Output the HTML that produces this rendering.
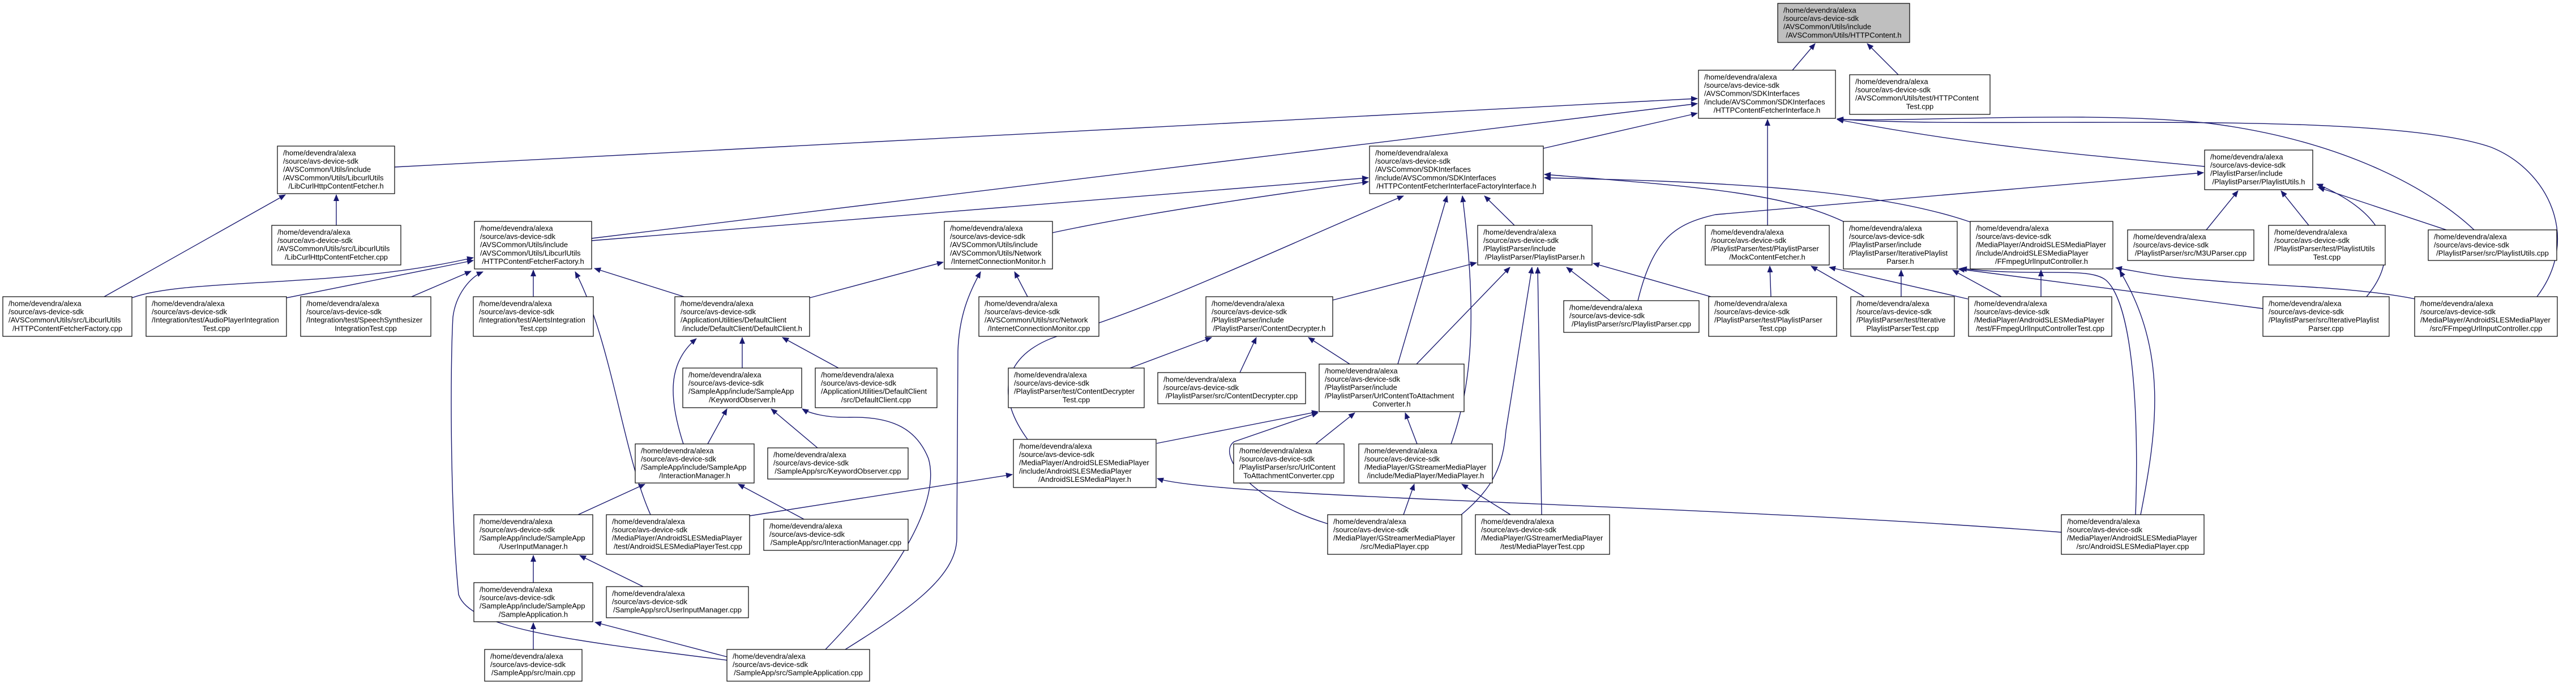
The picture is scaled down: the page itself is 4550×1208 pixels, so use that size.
<!DOCTYPE html>
<html><head><meta charset="utf-8"><style>
html,body{margin:0;padding:0;background:#fff}
svg{display:block}
text{font-family:"Liberation Sans",sans-serif;font-size:13px;fill:#000}
rect{fill:#fff;stroke:#000;stroke-width:1.2}
.e{fill:none;stroke:#191970;stroke-width:1.4;marker-end:url(#ah)}
.m{text-anchor:middle}
</style></head><body>
<svg width="4550" height="1208" viewBox="0 0 4550 1208" xmlns="http://www.w3.org/2000/svg">
<defs><marker id="ah" markerWidth="12" markerHeight="10" refX="11" refY="5" orient="auto" markerUnits="userSpaceOnUse"><path d="M0,0 L12,5 L0,10 z" fill="#191970"/></marker></defs>

<!-- edges -->
<path class="e" d="M3166,124 L3206,77"/>
<path class="e" d="M3353,132 L3298,77"/>
<path class="e" d="M697,295 L2998,174"/>
<path class="e" d="M1045,421 L2998,183"/>
<path class="e" d="M1045,425 L2417,314"/>
<path class="e" d="M2726,262 L2998,200"/>
<path class="e" d="M1859,411 Q2050,370 2417,321"/>
<path class="e" d="M1815,776 C1745,680 1790,615 1880,590 C2050,540 2300,420 2479,346"/>
<path class="e" d="M2469,643 L2556,346"/>
<path class="e" d="M2563,784 C2600,680 2610,560 2583,346"/>
<path class="e" d="M2675,398 L2622,346"/>
<path class="e" d="M3260,393 C3150,340 3000,330 2728,308"/>
<path class="e" d="M3480,392 C3300,330 3000,320 2728,314"/>
<path class="e" d="M3894,294 C3700,275 3500,260 3245,211"/>
<path class="e" d="M3122,398 L3122,211"/>
<path class="e" d="M4370,406 C4300,340 4150,250 3904,218 C3700,195 3400,215 3245,211"/>
<path class="e" d="M4481,524 C4560,420 4500,300 4400,260 C4200,190 3500,230 3245,210"/>
<path class="e" d="M2893,531 C2920,420 2960,395 3030,379 L3892,305"/>
<path class="e" d="M3897,406 L3953,337"/>
<path class="e" d="M4078,398 L4029,337"/>
<path class="e" d="M4321,406 L4095,331"/>
<path class="e" d="M4180,524 C4250,440 4200,370 4092,325"/>
<path class="e" d="M594,398 L594,344"/>
<path class="e" d="M184,524 L504,344"/>
<path class="e" d="M233,526 C330,490 600,510 836,455"/>
<path class="e" d="M506,526 L836,460"/>
<path class="e" d="M727,524 L832,479"/>
<path class="e" d="M942,524 L942,477"/>
<path class="e" d="M1208,524 L1050,474"/>
<path class="e" d="M1149,909 C1100,800 1080,600 1016,480"/>
<path class="e" d="M1284,1166 C1000,1130 830,1110 810,1050 C795,900 795,650 800,560 C805,520 830,490 853,480"/>
<path class="e" d="M1430,526 L1666,463"/>
<path class="e" d="M1815,524 L1792,480"/>
<path class="e" d="M1493,1147 C1600,1080 1690,1020 1690,950 L1692,620 C1694,560 1710,520 1732,480"/>
<path class="e" d="M1458,1147 C1600,1000 1660,880 1640,810 C1620,760 1580,735 1500,737 C1460,738 1430,730 1417,722"/>
<path class="e" d="M2354,530 L2608,464"/>
<path class="e" d="M2502,643 L2667,472"/>
<path class="e" d="M2581,909 C2640,860 2655,820 2660,760 L2706,472"/>
<path class="e" d="M2723,909 L2716,472"/>
<path class="e" d="M2844,531 L2767,472"/>
<path class="e" d="M3022,524 L2814,465"/>
<path class="e" d="M3128,524 L3126,470"/>
<path class="e" d="M3293,524 L3199,470"/>
<path class="e" d="M3476,528 L3231,472"/>
<path class="e" d="M3358,524 L3358,477"/>
<path class="e" d="M3535,524 L3449,477"/>
<path class="e" d="M3605,524 L3605,477"/>
<path class="e" d="M3997,545 L3459,475"/>
<path class="e" d="M3772,909 C3778,750 3770,540 3720,495 C3690,470 3600,490 3463,474"/>
<path class="e" d="M3781,909 C3810,760 3830,620 3744,478"/>
<path class="e" d="M4266,528 C4150,505 4000,505 3900,495 C3820,490 3780,480 3737,473"/>
<path class="e" d="M2043,783 L2328,727"/>
<path class="e" d="M1324,911 L1788,838"/>
<path class="e" d="M3641,940 C3000,890 2150,880 2044,845"/>
<path class="e" d="M2384,643 L2311,596"/>
<path class="e" d="M1996,650 L2140,596"/>
<path class="e" d="M2190,658 L2219,596"/>
<path class="e" d="M2324,784 L2393,729"/>
<path class="e" d="M2503,784 L2482,729"/>
<path class="e" d="M2345,925 C2200,880 2150,800 2180,780 L2328,729"/>
<path class="e" d="M2479,909 L2498,855"/>
<path class="e" d="M2668,909 L2582,855"/>
<path class="e" d="M1311,650 L1311,596"/>
<path class="e" d="M1481,650 L1382,596"/>
<path class="e" d="M1207,784 C1180,700 1180,640 1230,598"/>
<path class="e" d="M1250,784 L1284,722"/>
<path class="e" d="M1444,791 L1362,722"/>
<path class="e" d="M1021,909 L1139,855"/>
<path class="e" d="M1420,917 L1304,855"/>
<path class="e" d="M942,1029 L942,981"/>
<path class="e" d="M1136,1036 L1024,981"/>
<path class="e" d="M942,1147 L942,1100"/>
<path class="e" d="M1284,1160 L1051,1099"/>

<!-- nodes -->
<g transform="translate(3140,6)"><rect width="233" height="69" style="fill:#bfbfbf"/><text><tspan x="10" y="16.5">/home/devendra/alexa</tspan><tspan x="10" y="31">/source/avs-device-sdk</tspan><tspan x="10" y="45.7">/AVSCommon/Utils/include</tspan><tspan x="116.5" y="60.3" class="m">/AVSCommon/Utils/HTTPContent.h</tspan></text></g>
<g transform="translate(3000,124)"><rect width="242" height="85"/><text><tspan x="10" y="16.5">/home/devendra/alexa</tspan><tspan x="10" y="31">/source/avs-device-sdk</tspan><tspan x="10" y="45.7">/AVSCommon/SDKInterfaces</tspan><tspan x="10" y="60.3">/include/AVSCommon/SDKInterfaces</tspan><tspan x="121" y="75" class="m">/HTTPContentFetcherInterface.h</tspan></text></g>
<g transform="translate(3267,132)"><rect width="248" height="70"/><text><tspan x="10" y="16.5">/home/devendra/alexa</tspan><tspan x="10" y="31">/source/avs-device-sdk</tspan><tspan x="10" y="45.7">/AVSCommon/Utils/test/HTTPContent</tspan><tspan x="124" y="60.3" class="m">Test.cpp</tspan></text></g>
<g transform="translate(490,258)"><rect width="207" height="84"/><text><tspan x="10" y="16.5">/home/devendra/alexa</tspan><tspan x="10" y="31">/source/avs-device-sdk</tspan><tspan x="10" y="45.7">/AVSCommon/Utils/include</tspan><tspan x="10" y="60.3">/AVSCommon/Utils/LibcurlUtils</tspan><tspan x="103.5" y="75" class="m">/LibCurlHttpContentFetcher.h</tspan></text></g>
<g transform="translate(2419,258)"><rect width="307" height="84"/><text><tspan x="10" y="16.5">/home/devendra/alexa</tspan><tspan x="10" y="31">/source/avs-device-sdk</tspan><tspan x="10" y="45.7">/AVSCommon/SDKInterfaces</tspan><tspan x="10" y="60.3">/include/AVSCommon/SDKInterfaces</tspan><tspan x="153.5" y="75" class="m">/HTTPContentFetcherInterfaceFactoryInterface.h</tspan></text></g>
<g transform="translate(3894,265)"><rect width="191" height="70"/><text><tspan x="10" y="16.5">/home/devendra/alexa</tspan><tspan x="10" y="31">/source/avs-device-sdk</tspan><tspan x="10" y="45.7">/PlaylistParser/include</tspan><tspan x="95.5" y="60.3" class="m">/PlaylistParser/PlaylistUtils.h</tspan></text></g>
<g transform="translate(480,398)"><rect width="228" height="70"/><text><tspan x="10" y="16.5">/home/devendra/alexa</tspan><tspan x="10" y="31">/source/avs-device-sdk</tspan><tspan x="10" y="45.7">/AVSCommon/Utils/src/LibcurlUtils</tspan><tspan x="114" y="60.3" class="m">/LibCurlHttpContentFetcher.cpp</tspan></text></g>
<g transform="translate(838,391)"><rect width="207" height="84"/><text><tspan x="10" y="16.5">/home/devendra/alexa</tspan><tspan x="10" y="31">/source/avs-device-sdk</tspan><tspan x="10" y="45.7">/AVSCommon/Utils/include</tspan><tspan x="10" y="60.3">/AVSCommon/Utils/LibcurlUtils</tspan><tspan x="103.5" y="75" class="m">/HTTPContentFetcherFactory.h</tspan></text></g>
<g transform="translate(1668,391)"><rect width="191" height="84"/><text><tspan x="10" y="16.5">/home/devendra/alexa</tspan><tspan x="10" y="31">/source/avs-device-sdk</tspan><tspan x="10" y="45.7">/AVSCommon/Utils/include</tspan><tspan x="10" y="60.3">/AVSCommon/Utils/Network</tspan><tspan x="95.5" y="75" class="m">/InternetConnectionMonitor.h</tspan></text></g>
<g transform="translate(2610,398)"><rect width="202" height="70"/><text><tspan x="10" y="16.5">/home/devendra/alexa</tspan><tspan x="10" y="31">/source/avs-device-sdk</tspan><tspan x="10" y="45.7">/PlaylistParser/include</tspan><tspan x="101" y="60.3" class="m">/PlaylistParser/PlaylistParser.h</tspan></text></g>
<g transform="translate(3012,398)"><rect width="219" height="70"/><text><tspan x="10" y="16.5">/home/devendra/alexa</tspan><tspan x="10" y="31">/source/avs-device-sdk</tspan><tspan x="10" y="45.7">/PlaylistParser/test/PlaylistParser</tspan><tspan x="109.5" y="60.3" class="m">/MockContentFetcher.h</tspan></text></g>
<g transform="translate(3256,391)"><rect width="201" height="84"/><text><tspan x="10" y="16.5">/home/devendra/alexa</tspan><tspan x="10" y="31">/source/avs-device-sdk</tspan><tspan x="10" y="45.7">/PlaylistParser/include</tspan><tspan x="10" y="60.3">/PlaylistParser/IterativePlaylist</tspan><tspan x="100.5" y="75" class="m">Parser.h</tspan></text></g>
<g transform="translate(3480,391)"><rect width="252" height="84"/><text><tspan x="10" y="16.5">/home/devendra/alexa</tspan><tspan x="10" y="31">/source/avs-device-sdk</tspan><tspan x="10" y="45.7">/MediaPlayer/AndroidSLESMediaPlayer</tspan><tspan x="10" y="60.3">/include/AndroidSLESMediaPlayer</tspan><tspan x="126" y="75" class="m">/FFmpegUrlInputController.h</tspan></text></g>
<g transform="translate(3758,406)"><rect width="223" height="54"/><text><tspan x="10" y="16.5">/home/devendra/alexa</tspan><tspan x="10" y="31">/source/avs-device-sdk</tspan><tspan x="111.5" y="45.7" class="m">/PlaylistParser/src/M3UParser.cpp</tspan></text></g>
<g transform="translate(4007,398)"><rect width="206" height="70"/><text><tspan x="10" y="16.5">/home/devendra/alexa</tspan><tspan x="10" y="31">/source/avs-device-sdk</tspan><tspan x="10" y="45.7">/PlaylistParser/test/PlaylistUtils</tspan><tspan x="103" y="60.3" class="m">Test.cpp</tspan></text></g>
<g transform="translate(4289,406)"><rect width="227" height="54"/><text><tspan x="10" y="16.5">/home/devendra/alexa</tspan><tspan x="10" y="31">/source/avs-device-sdk</tspan><tspan x="113.5" y="45.7" class="m">/PlaylistParser/src/PlaylistUtils.cpp</tspan></text></g>

<g transform="translate(5,524)"><rect width="228" height="70"/><text><tspan x="10" y="16.5">/home/devendra/alexa</tspan><tspan x="10" y="31">/source/avs-device-sdk</tspan><tspan x="10" y="45.7">/AVSCommon/Utils/src/LibcurlUtils</tspan><tspan x="114" y="60.3" class="m">/HTTPContentFetcherFactory.cpp</tspan></text></g>
<g transform="translate(258,524)"><rect width="248" height="70"/><text><tspan x="10" y="16.5">/home/devendra/alexa</tspan><tspan x="10" y="31">/source/avs-device-sdk</tspan><tspan x="10" y="45.7">/Integration/test/AudioPlayerIntegration</tspan><tspan x="124" y="60.3" class="m">Test.cpp</tspan></text></g>
<g transform="translate(531,524)"><rect width="230" height="70"/><text><tspan x="10" y="16.5">/home/devendra/alexa</tspan><tspan x="10" y="31">/source/avs-device-sdk</tspan><tspan x="10" y="45.7">/Integration/test/SpeechSynthesizer</tspan><tspan x="115" y="60.3" class="m">IntegrationTest.cpp</tspan></text></g>
<g transform="translate(836,524)"><rect width="212" height="70"/><text><tspan x="10" y="16.5">/home/devendra/alexa</tspan><tspan x="10" y="31">/source/avs-device-sdk</tspan><tspan x="10" y="45.7">/Integration/test/AlertsIntegration</tspan><tspan x="106" y="60.3" class="m">Test.cpp</tspan></text></g>
<g transform="translate(1192,524)"><rect width="238" height="70"/><text><tspan x="10" y="16.5">/home/devendra/alexa</tspan><tspan x="10" y="31">/source/avs-device-sdk</tspan><tspan x="10" y="45.7">/ApplicationUtilities/DefaultClient</tspan><tspan x="119" y="60.3" class="m">/include/DefaultClient/DefaultClient.h</tspan></text></g>
<g transform="translate(1729,524)"><rect width="212" height="70"/><text><tspan x="10" y="16.5">/home/devendra/alexa</tspan><tspan x="10" y="31">/source/avs-device-sdk</tspan><tspan x="10" y="45.7">/AVSCommon/Utils/src/Network</tspan><tspan x="106" y="60.3" class="m">/InternetConnectionMonitor.cpp</tspan></text></g>
<g transform="translate(2130,524)"><rect width="224" height="70"/><text><tspan x="10" y="16.5">/home/devendra/alexa</tspan><tspan x="10" y="31">/source/avs-device-sdk</tspan><tspan x="10" y="45.7">/PlaylistParser/include</tspan><tspan x="112" y="60.3" class="m">/PlaylistParser/ContentDecrypter.h</tspan></text></g>
<g transform="translate(2762,531)"><rect width="239" height="56"/><text><tspan x="10" y="16.5">/home/devendra/alexa</tspan><tspan x="10" y="31">/source/avs-device-sdk</tspan><tspan x="119.5" y="45.7" class="m">/PlaylistParser/src/PlaylistParser.cpp</tspan></text></g>
<g transform="translate(3018,524)"><rect width="226" height="70"/><text><tspan x="10" y="16.5">/home/devendra/alexa</tspan><tspan x="10" y="31">/source/avs-device-sdk</tspan><tspan x="10" y="45.7">/PlaylistParser/test/PlaylistParser</tspan><tspan x="113" y="60.3" class="m">Test.cpp</tspan></text></g>
<g transform="translate(3269,524)"><rect width="183" height="70"/><text><tspan x="10" y="16.5">/home/devendra/alexa</tspan><tspan x="10" y="31">/source/avs-device-sdk</tspan><tspan x="10" y="45.7">/PlaylistParser/test/Iterative</tspan><tspan x="91.5" y="60.3" class="m">PlaylistParserTest.cpp</tspan></text></g>
<g transform="translate(3477,524)"><rect width="253" height="70"/><text><tspan x="10" y="16.5">/home/devendra/alexa</tspan><tspan x="10" y="31">/source/avs-device-sdk</tspan><tspan x="10" y="45.7">/MediaPlayer/AndroidSLESMediaPlayer</tspan><tspan x="126.5" y="60.3" class="m">/test/FFmpegUrlInputControllerTest.cpp</tspan></text></g>
<g transform="translate(3997,524)"><rect width="223" height="70"/><text><tspan x="10" y="16.5">/home/devendra/alexa</tspan><tspan x="10" y="31">/source/avs-device-sdk</tspan><tspan x="10" y="45.7">/PlaylistParser/src/IterativePlaylist</tspan><tspan x="111.5" y="60.3" class="m">Parser.cpp</tspan></text></g>
<g transform="translate(4265,524)"><rect width="252" height="70"/><text><tspan x="10" y="16.5">/home/devendra/alexa</tspan><tspan x="10" y="31">/source/avs-device-sdk</tspan><tspan x="10" y="45.7">/MediaPlayer/AndroidSLESMediaPlayer</tspan><tspan x="126" y="60.3" class="m">/src/FFmpegUrlInputController.cpp</tspan></text></g>

<g transform="translate(1206,650)"><rect width="210" height="70"/><text><tspan x="10" y="16.5">/home/devendra/alexa</tspan><tspan x="10" y="31">/source/avs-device-sdk</tspan><tspan x="10" y="45.7">/SampleApp/include/SampleApp</tspan><tspan x="105" y="60.3" class="m">/KeywordObserver.h</tspan></text></g>
<g transform="translate(1440,650)"><rect width="215" height="70"/><text><tspan x="10" y="16.5">/home/devendra/alexa</tspan><tspan x="10" y="31">/source/avs-device-sdk</tspan><tspan x="10" y="45.7">/ApplicationUtilities/DefaultClient</tspan><tspan x="107.5" y="60.3" class="m">/src/DefaultClient.cpp</tspan></text></g>
<g transform="translate(1781,650)"><rect width="240" height="70"/><text><tspan x="10" y="16.5">/home/devendra/alexa</tspan><tspan x="10" y="31">/source/avs-device-sdk</tspan><tspan x="10" y="45.7">/PlaylistParser/test/ContentDecrypter</tspan><tspan x="120" y="60.3" class="m">Test.cpp</tspan></text></g>
<g transform="translate(2045,658)"><rect width="261" height="55"/><text><tspan x="10" y="16.5">/home/devendra/alexa</tspan><tspan x="10" y="31">/source/avs-device-sdk</tspan><tspan x="130.5" y="45.7" class="m">/PlaylistParser/src/ContentDecrypter.cpp</tspan></text></g>
<g transform="translate(2330,643)"><rect width="256" height="84"/><text><tspan x="10" y="16.5">/home/devendra/alexa</tspan><tspan x="10" y="31">/source/avs-device-sdk</tspan><tspan x="10" y="45.7">/PlaylistParser/include</tspan><tspan x="10" y="60.3">/PlaylistParser/UrlContentToAttachment</tspan><tspan x="128" y="75" class="m">Converter.h</tspan></text></g>

<g transform="translate(1122,784)"><rect width="210" height="69"/><text><tspan x="10" y="16.5">/home/devendra/alexa</tspan><tspan x="10" y="31">/source/avs-device-sdk</tspan><tspan x="10" y="45.7">/SampleApp/include/SampleApp</tspan><tspan x="105" y="60.3" class="m">/InteractionManager.h</tspan></text></g>
<g transform="translate(1356,791)"><rect width="248" height="55"/><text><tspan x="10" y="16.5">/home/devendra/alexa</tspan><tspan x="10" y="31">/source/avs-device-sdk</tspan><tspan x="124" y="45.7" class="m">/SampleApp/src/KeywordObserver.cpp</tspan></text></g>
<g transform="translate(1790,776)"><rect width="252" height="85"/><text><tspan x="10" y="16.5">/home/devendra/alexa</tspan><tspan x="10" y="31">/source/avs-device-sdk</tspan><tspan x="10" y="45.7">/MediaPlayer/AndroidSLESMediaPlayer</tspan><tspan x="10" y="60.3">/include/AndroidSLESMediaPlayer</tspan><tspan x="126" y="75" class="m">/AndroidSLESMediaPlayer.h</tspan></text></g>
<g transform="translate(2179,784)"><rect width="195" height="69"/><text><tspan x="10" y="16.5">/home/devendra/alexa</tspan><tspan x="10" y="31">/source/avs-device-sdk</tspan><tspan x="10" y="45.7">/PlaylistParser/src/UrlContent</tspan><tspan x="97.5" y="60.3" class="m">ToAttachmentConverter.cpp</tspan></text></g>
<g transform="translate(2400,784)"><rect width="236" height="69"/><text><tspan x="10" y="16.5">/home/devendra/alexa</tspan><tspan x="10" y="31">/source/avs-device-sdk</tspan><tspan x="10" y="45.7">/MediaPlayer/GStreamerMediaPlayer</tspan><tspan x="118" y="60.3" class="m">/include/MediaPlayer/MediaPlayer.h</tspan></text></g>

<g transform="translate(837,909)"><rect width="210" height="70"/><text><tspan x="10" y="16.5">/home/devendra/alexa</tspan><tspan x="10" y="31">/source/avs-device-sdk</tspan><tspan x="10" y="45.7">/SampleApp/include/SampleApp</tspan><tspan x="105" y="60.3" class="m">/UserInputManager.h</tspan></text></g>
<g transform="translate(1071,909)"><rect width="253" height="70"/><text><tspan x="10" y="16.5">/home/devendra/alexa</tspan><tspan x="10" y="31">/source/avs-device-sdk</tspan><tspan x="10" y="45.7">/MediaPlayer/AndroidSLESMediaPlayer</tspan><tspan x="126.5" y="60.3" class="m">/test/AndroidSLESMediaPlayerTest.cpp</tspan></text></g>
<g transform="translate(1349,917)"><rect width="255" height="55"/><text><tspan x="10" y="16.5">/home/devendra/alexa</tspan><tspan x="10" y="31">/source/avs-device-sdk</tspan><tspan x="127.5" y="45.7" class="m">/SampleApp/src/InteractionManager.cpp</tspan></text></g>
<g transform="translate(2345,909)"><rect width="237" height="70"/><text><tspan x="10" y="16.5">/home/devendra/alexa</tspan><tspan x="10" y="31">/source/avs-device-sdk</tspan><tspan x="10" y="45.7">/MediaPlayer/GStreamerMediaPlayer</tspan><tspan x="118.5" y="60.3" class="m">/src/MediaPlayer.cpp</tspan></text></g>
<g transform="translate(2606,909)"><rect width="237" height="70"/><text><tspan x="10" y="16.5">/home/devendra/alexa</tspan><tspan x="10" y="31">/source/avs-device-sdk</tspan><tspan x="10" y="45.7">/MediaPlayer/GStreamerMediaPlayer</tspan><tspan x="118.5" y="60.3" class="m">/test/MediaPlayerTest.cpp</tspan></text></g>
<g transform="translate(3641,909)"><rect width="252" height="70"/><text><tspan x="10" y="16.5">/home/devendra/alexa</tspan><tspan x="10" y="31">/source/avs-device-sdk</tspan><tspan x="10" y="45.7">/MediaPlayer/AndroidSLESMediaPlayer</tspan><tspan x="126" y="60.3" class="m">/src/AndroidSLESMediaPlayer.cpp</tspan></text></g>

<g transform="translate(837,1029)"><rect width="210" height="69"/><text><tspan x="10" y="16.5">/home/devendra/alexa</tspan><tspan x="10" y="31">/source/avs-device-sdk</tspan><tspan x="10" y="45.7">/SampleApp/include/SampleApp</tspan><tspan x="105" y="60.3" class="m">/SampleApplication.h</tspan></text></g>
<g transform="translate(1071,1036)"><rect width="251" height="55"/><text><tspan x="10" y="16.5">/home/devendra/alexa</tspan><tspan x="10" y="31">/source/avs-device-sdk</tspan><tspan x="125.5" y="45.7" class="m">/SampleApp/src/UserInputManager.cpp</tspan></text></g>
<g transform="translate(856,1147)"><rect width="172" height="56"/><text><tspan x="10" y="16.5">/home/devendra/alexa</tspan><tspan x="10" y="31">/source/avs-device-sdk</tspan><tspan x="86" y="45.7" class="m">/SampleApp/src/main.cpp</tspan></text></g>
<g transform="translate(1284,1147)"><rect width="252" height="56"/><text><tspan x="10" y="16.5">/home/devendra/alexa</tspan><tspan x="10" y="31">/source/avs-device-sdk</tspan><tspan x="126" y="45.7" class="m">/SampleApp/src/SampleApplication.cpp</tspan></text></g>
</svg>
</body></html>
